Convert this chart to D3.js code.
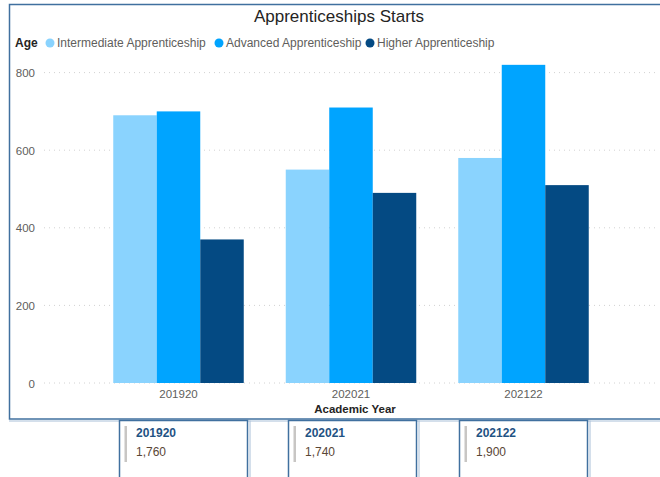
<!DOCTYPE html>
<html><head><meta charset="utf-8">
<script src="https://cdn.jsdelivr.net/npm/d3@7"></script>
<style>
body{margin:0;background:#fff;}
svg{display:block;font-family:"Liberation Sans",Arial,sans-serif;}
</style></head>
<body><svg id="c" width="660" height="477"></svg>
<script>
const title = "Apprenticeships Starts";
const categories = ["201920", "202021", "202122"];
const seriesNames = ["Intermediate Apprenticeship", "Advanced Apprenticeship", "Higher Apprenticeship"];
const intermediate = [690, 550, 580];
const advanced = [700, 710, 820];
const higher = [370, 490, 510];
const totals = ["1,760", "1,740", "1,900"];
const yTicks = [0, 200, 400, 600, 800];
const colors = ["#8ad3fe", "#00a4ff", "#044a83"];

const series = [intermediate, advanced, higher];
const svg = d3.select("#c");

// frame
svg.append("rect").attr("x", 9.5).attr("y", 4.5).attr("width", 680).attr("height", 414.5)
  .attr("fill", "none").attr("stroke", "#40709f").attr("stroke-width", 1.5);
svg.append("line").attr("x1", 9).attr("x2", 660).attr("y1", 421).attr("y2", 421)
  .attr("stroke", "#a9c0d8").attr("stroke-width", 1);

const y = d3.scaleLinear().domain([0, 800]).range([383, 72.6]);
const x = d3.scaleBand().domain(categories).range([92.25, 609.75]).paddingInner(0.2435).paddingOuter(0.12175);
const xs = d3.scaleBand().domain(d3.range(series.length)).range([0, x.bandwidth()]);

// grid
const yAxis = d3.axisLeft(y).tickValues(yTicks).tickSize(0).tickPadding(0).tickFormat(d3.format("d"));
const gy = svg.append("g").attr("transform", "translate(35,0)").call(yAxis);
gy.select(".domain").remove();
gy.selectAll("text").attr("font-size", 11.5).attr("fill", "#605e5c").attr("dy", "0.35em");
svg.append("g").selectAll("line").data(yTicks).join("line")
  .attr("x1", 44).attr("x2", 658).attr("y1", d => y(d)).attr("y2", d => y(d))
  .attr("stroke", "#d2d2d2").attr("stroke-dasharray", "1,4").attr("stroke-width", 1);

// bars
const g = svg.append("g");
categories.forEach((c, i) => {
  series.forEach((s, j) => {
    g.append("rect").attr("x", x(c) + xs(j)).attr("y", y(s[i]))
      .attr("width", xs.bandwidth()).attr("height", y(0) - y(s[i]))
      .attr("fill", colors[j]);
  });
});

// x axis
const xAxis = d3.axisBottom(x).tickSize(0).tickPadding(0);
const gx = svg.append("g").attr("transform", "translate(0,390)").call(xAxis);
gx.select(".domain").remove();
gx.selectAll("text").attr("font-size", 11.5).attr("fill", "#605e5c").attr("dy", "0.71em");
svg.append("text").attr("x", 355).attr("y", 413).attr("text-anchor", "middle")
  .attr("font-size", 11.5).attr("font-weight", "bold").attr("fill", "#252423").text("Academic Year");

// title
svg.append("text").attr("x", 339).attr("y", 22).attr("text-anchor", "middle")
  .attr("font-size", 17).attr("fill", "#252423").text(title);

// legend
const lg = svg.append("g").attr("font-size", 12);
lg.append("text").attr("x", 15).attr("y", 47).attr("font-weight", "bold").attr("fill", "#252423").text("Age");
const legX = [50, 219, 370];
seriesNames.forEach((n, j) => {
  lg.append("circle").attr("cx", legX[j]).attr("cy", 43).attr("r", 4.5).attr("fill", colors[j]);
  lg.append("text").attr("x", legX[j] + 7).attr("y", 47).attr("fill", "#605e5c").text(n);
});

// cards
const cardX = [119.5, 288.5, 459.5];
categories.forEach((c, i) => {
  const cg = svg.append("g").attr("transform", `translate(${cardX[i]},420.5)`);
  cg.append("line").attr("x1", 130.5).attr("x2", 130.5).attr("y1", 0).attr("y2", 60)
    .attr("stroke", "#a9c0d8");
  cg.append("rect").attr("x", 0).attr("y", 0).attr("width", 128).attr("height", 70)
    .attr("fill", "#fff").attr("stroke", "#40709f").attr("stroke-width", 1.5);
  cg.append("rect").attr("x", 5).attr("y", 5.5).attr("width", 2.5).attr("height", 36).attr("fill", "#c8c6c4");
  cg.append("text").attr("x", 16.5).attr("y", 16).attr("font-size", 12).attr("font-weight", "bold")
    .attr("fill", "#1f5384").text(c);
  cg.append("text").attr("x", 16.5).attr("y", 35).attr("font-size", 12)
    .attr("fill", "#5a4636").text(totals[i]);
});
</script></body></html>
